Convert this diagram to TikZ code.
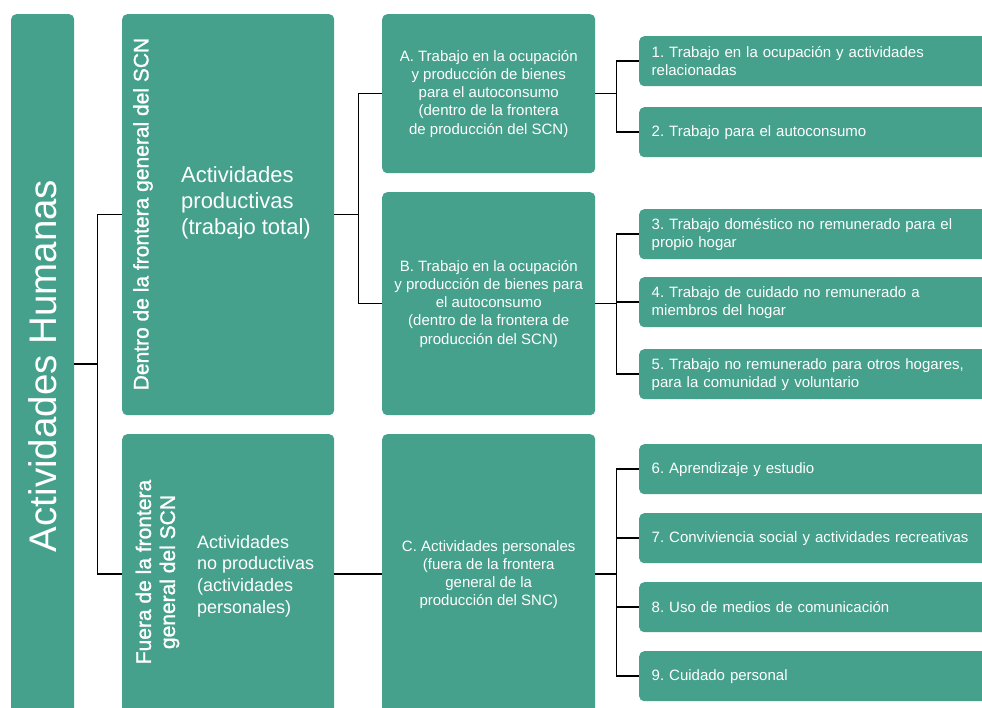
\documentclass[tikz,border=0pt]{standalone}
\usepackage{fontspec}
\setmainfont{Liberation Sans}
\newfontfamily\medio[FakeBold=1.2]{Liberation Sans}
\usetikzlibrary{positioning}
\definecolor{verde}{RGB}{69,161,140}

\begin{document}
\frenchspacing
\begin{tikzpicture}[x=1pt,y=-1pt,
	caja/.style={fill=verde,rounded corners=5pt,inner sep=0pt,anchor=north west,text=white},
	letra/.style={text=white,inner sep=0pt},
	item/.style={caja,minimum height=50pt,text width=332pt,inner xsep=12.5pt,align=left,font=\fontsize{15}{18}\selectfont},
	linea/.style={line width=1.5pt,black}]
	\useasboundingbox (0,0) rectangle (982,708);
	\clip (0,0) rectangle (982,708);
	\node[caja,minimum width=63pt,minimum height=700pt] (humanas) at (11,14) {};
	\node[letra,rotate=90,font=\fontsize{38.5}{44}\selectfont] (thumanas) at (42.5,366) {Actividades Humanas};
	\node[caja,minimum width=212pt,minimum height=401pt] (dentro) at (122,14) {};
	\node[letra,rotate=90,font=\medio\fontsize{21}{23}\selectfont] (tdentro) at (143,214) {Dentro de la frontera general del SCN};
	\node[letra,anchor=west,align=left,font=\fontsize{22}{26}\selectfont] (pdentro) at (181,203) {Actividades\\productivas\\(trabajo total)};
	\node[caja,minimum width=212pt,minimum height=280pt] (fuera) at (122,434) {};
	\node[letra,rotate=90,align=center,font=\medio\fontsize{21}{24}\selectfont] (tfuera) at (157.5,572) {Fuera de la frontera\\general del SCN};
	\node[letra,anchor=west,align=left,font=\fontsize{18}{21.7}\selectfont] (pfuera) at (197,576) {Actividades\\no productivas\\(actividades\\personales)};
	\node[caja,minimum width=213pt,minimum height=159pt,align=center,font=\fontsize{15}{18.2}\selectfont] (a) at (382,14) {A. Trabajo en la ocupación\\y producción de bienes\\para el autoconsumo\\(dentro de la frontera\\de producción del SCN)};
	\node[caja,minimum width=213pt,minimum height=223pt,align=center,font=\fontsize{15}{18.2}\selectfont] (b) at (382,192) {B. Trabajo en la ocupación\\y producción de bienes para\\el autoconsumo\\(dentro de la frontera de\\producción del SCN)};
	\node[caja,minimum width=213pt,minimum height=280pt,align=center,font=\fontsize{15}{18}\selectfont] (c) at (382,434) {C. Actividades personales\\(fuera de la frontera\\general de la\\producción del SNC)};
	\node[item] (t1) at (639,36) {1. Trabajo en la ocupación y actividades\\relacionadas};
	\node[item] (t2) at (639,107) {2. Trabajo para el autoconsumo};
	\node[item] (t3) at (639,209) {3. Trabajo doméstico no remunerado para el\\propio hogar};
	\node[item] (t4) at (639,277) {4. Trabajo de cuidado no remunerado a\\miembros del hogar};
	\node[item] (t5) at (639,349) {5. Trabajo no remunerado para otros hogares,\\para la comunidad y voluntario};
	\node[item] (t6) at (639,444) {6. Aprendizaje y estudio};
	\node[item] (t7) at (639,513) {7. Conviviencia social y actividades recreativas};
	\node[item] (t8) at (639,582) {8. Uso de medios de comunicación};
	\node[item] (t9) at (639,651) {9. Cuidado personal};
	\draw[linea] (humanas.east) -- ++(23,0) |- (dentro.west);
	\draw[linea] (humanas.east) -- ++(23,0) |- (fuera.west);
	\draw[linea] (dentro.east) -- ++(24,0) |- (a.west);
	\draw[linea] (dentro.east) -- ++(24,0) |- (b.west);
	\draw[linea] (fuera.east) -- (c.west);
	\draw[linea] (a.east) -- ++(21,0) |- (t1.west);
	\draw[linea] (a.east) -- ++(21,0) |- (t2.west);
	\draw[linea] (b.east) -- ++(21,0) |- (t3.west);
	\draw[linea] (b.east) -- ++(21,0) |- (t4.west);
	\draw[linea] (b.east) -- ++(21,0) |- (t5.west);
	\draw[linea] (c.east) -- ++(21,0) |- (t6.west);
	\draw[linea] (c.east) -- ++(21,0) |- (t7.west);
	\draw[linea] (c.east) -- ++(21,0) |- (t8.west);
	\draw[linea] (c.east) -- ++(21,0) |- (t9.west);
\end{tikzpicture}
\end{document}
